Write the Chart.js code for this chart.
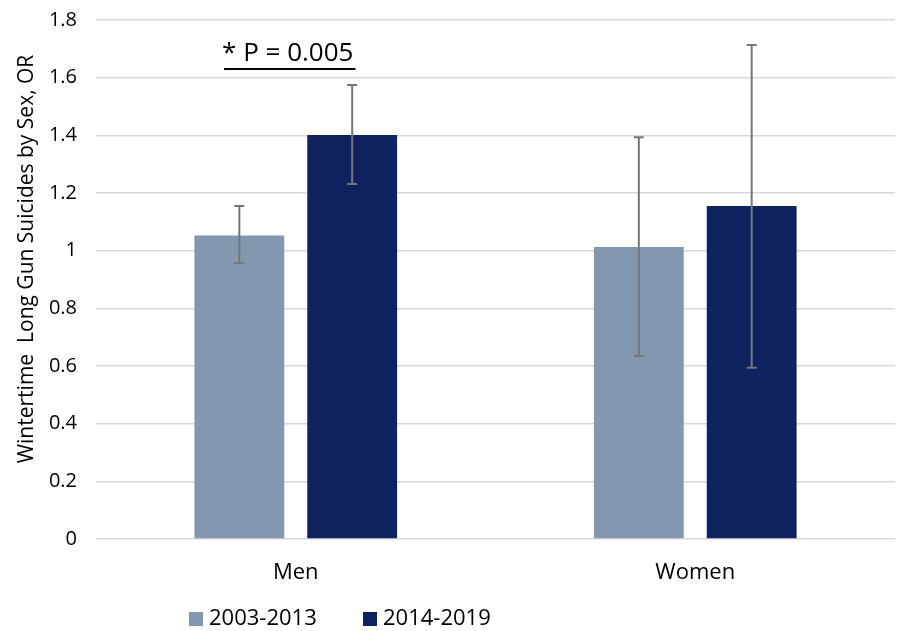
<!DOCTYPE html>
<html>
<head>
<meta charset="utf-8">
<script src="https://cdn.jsdelivr.net/npm/chart.js@4/dist/chart.umd.min.js"></script>
<style>
  html, body { margin: 0; padding: 0; background: #fff; }
  canvas { display: block; }
</style>
</head>
<body>
<canvas id="c" width="900" height="631"></canvas>
<script>
// Wintertime long gun suicide odds ratios by sex, two time periods
const categories = ['Men', 'Women'];
const periods = ['2003-2013', '2014-2019'];
const orEarly = [1.053, 1.013];
const orLate = [1.401, 1.155];
const ciEarlyLow = [0.956, 0.635];
const ciEarlyHigh = [1.155, 1.393];
const ciLateLow = [1.231, 0.594];
const ciLateHigh = [1.575, 1.713];
const yTickValues = [0, 0.2, 0.4, 0.6, 0.8, 1, 1.2, 1.4, 1.6, 1.8];
const yTitle = 'Wintertime  Long Gun Suicides by Sex, OR';
const pLabel = '* P = 0.005';

const colors = ['#8497B0', '#0E2260'];
const FONT = '"Open Sans", "DejaVu Sans", sans-serif';
const TEXT = '#000000';

// Confidence interval whiskers on every bar
const errorBars = {
  id: 'errorBars',
  afterDatasetsDraw(chart) {
    const { ctx, scales: { y } } = chart;
    ctx.save();
    ctx.strokeStyle = '#767676';
    ctx.lineWidth = 2;
    chart.data.datasets.forEach((ds, di) => {
      const meta = chart.getDatasetMeta(di);
      meta.data.forEach((bar, i) => {
        const yl = y.getPixelForValue(ds.ciLow[i]);
        const yh = y.getPixelForValue(ds.ciHigh[i]);
        const x = bar.x, w = 5;
        ctx.beginPath();
        ctx.moveTo(x, yl); ctx.lineTo(x, yh);
        ctx.moveTo(x - w, yl); ctx.lineTo(x + w, yl);
        ctx.moveTo(x - w, yh); ctx.lineTo(x + w, yh);
        ctx.stroke();
      });
    });
    ctx.restore();
  }
};

// Axis title, significance note above the men's pair, and the bottom legend
const extras = {
  id: 'extras',
  afterDraw(chart) {
    const { ctx, chartArea, scales: { x } } = chart;
    ctx.save();
    ctx.fillStyle = TEXT;
    ctx.textBaseline = 'middle';

    // rotated value-axis title
    ctx.save();
    ctx.translate(27, chartArea.top + 239);
    ctx.rotate(-Math.PI / 2);
    ctx.textAlign = 'center';
    ctx.font = '21px ' + FONT;
    ctx.fillText(yTitle, 0, 0);
    ctx.restore();

    // p-value label with underline
    ctx.font = '26px ' + FONT;
    ctx.textAlign = 'center';
    const cx = x.getPixelForValue(0) - 8;
    const cy = chartArea.top + 34;
    ctx.fillText(pLabel, cx, cy);
    const tw = ctx.measureText(pLabel).width;
    ctx.strokeStyle = TEXT;
    ctx.lineWidth = 2;
    ctx.beginPath();
    ctx.moveTo(cx - tw / 2 + 2, cy + 15);
    ctx.lineTo(cx + tw / 2 + 2, cy + 15);
    ctx.stroke();

    // legend
    ctx.font = '22px ' + FONT;
    ctx.textAlign = 'left';
    let lx = chartArea.left + 93;
    const ly = 619;
    chart.data.datasets.forEach((ds) => {
      ctx.fillStyle = ds.backgroundColor;
      ctx.fillRect(lx, ly - 7, 14, 14);
      ctx.fillStyle = TEXT;
      ctx.fillText(ds.label, lx + 20, ly);
      lx += 174;
    });
    ctx.restore();
  }
};

new Chart(document.getElementById('c'), {
  type: 'bar',
  data: {
    labels: categories,
    datasets: [
      { label: periods[0], data: orEarly, ciLow: ciEarlyLow, ciHigh: ciEarlyHigh, backgroundColor: colors[0] },
      { label: periods[1], data: orLate, ciLow: ciLateLow, ciHigh: ciLateHigh, backgroundColor: colors[1] }
    ]
  },
  options: {
    responsive: false,
    animation: false,
    devicePixelRatio: 1,
    layout: { padding: { top: 20, right: 5, bottom: 0, left: 0 } },
    datasets: { bar: { categoryPercentage: 0.565, barPercentage: 0.796 } },
    plugins: { legend: { display: false }, tooltip: { enabled: false } },
    scales: {
      x: {
        grid: { display: false, drawTicks: false },
        border: { display: false },
        ticks: { color: TEXT, font: { family: FONT, size: 22 }, padding: 21 },
        afterFit(s) { s.height = 92; s.paddingLeft = 0; s.paddingRight = 0; }
      },
      y: {
        min: 0,
        max: 1.8,
        afterBuildTicks(s) { s.ticks = yTickValues.map(v => ({ value: v })); },
        grid: { color: '#d9d9d9', lineWidth: 1.5, drawTicks: false },
        border: { display: false },
        ticks: {
          color: TEXT,
          font: { family: FONT, size: 20 },
          padding: 19,
          callback: v => String(parseFloat(Number(v).toFixed(1)))
        },
        afterFit(s) { s.width = 96; s.paddingTop = 0; s.paddingBottom = 0; }
      }
    }
  },
  plugins: [errorBars, extras]
});
</script>
</body>
</html>
